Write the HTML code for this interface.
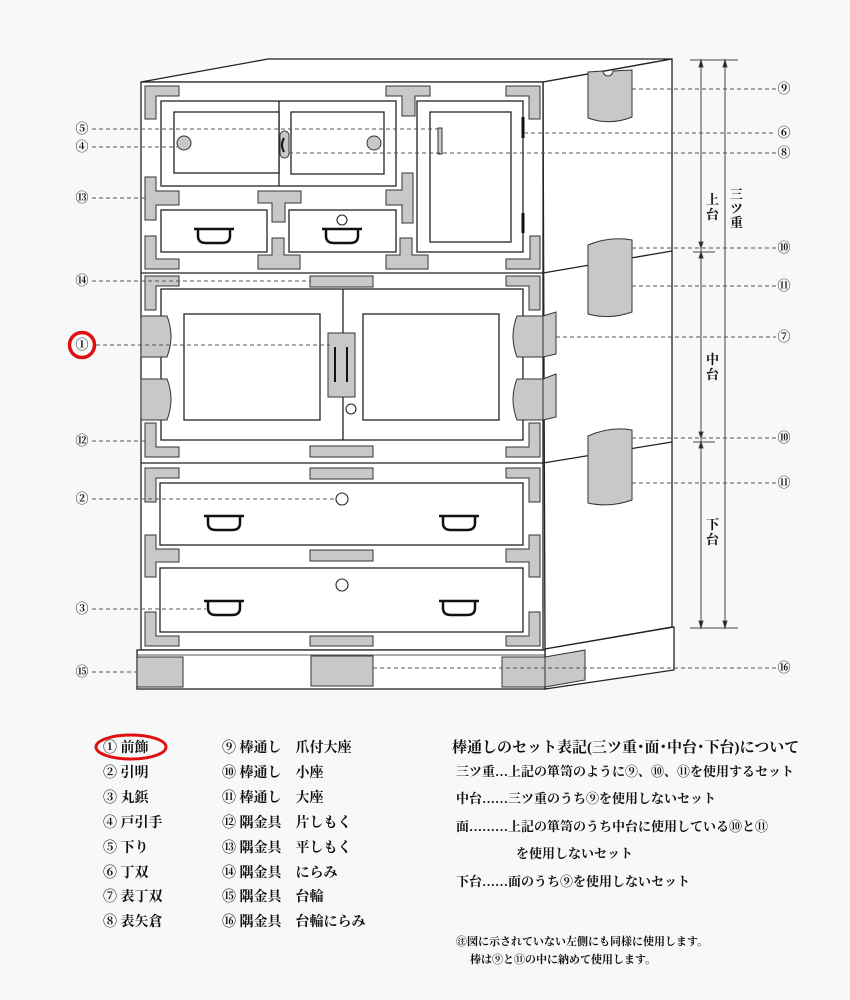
<!DOCTYPE html>
<html><head><meta charset="utf-8"><style>
html,body{margin:0;padding:0;background:#f6f8fa;}
svg{display:block;}
.t{font-family:"Liberation Serif","Noto Serif CJK JP","Noto Serif CJK SC",serif;font-weight:bold;fill:#111;}
.n{font-family:"Liberation Serif","Noto Serif CJK JP","Noto Serif CJK SC",serif;font-size:13px;font-weight:bold;fill:#111;}
</style></head><body>
<svg width="850" height="1000" viewBox="0 0 850 1000" xmlns="http://www.w3.org/2000/svg">
<rect width="850" height="1000" fill="#f6f8fa"/>
<g stroke="#222" stroke-width="1.3" fill="#fff">
<path d="M141,82 L268,59 L672,59 L543,82 Z"/>
<path d="M543,82 L672,59 L672,627 L545,649 L543,82 Z"/>
<path d="M545,649 L674,627 L674,670 L545,689 Z"/>
<rect x="141" y="82" width="402" height="568"/>
<rect x="137" y="650" width="408" height="39"/>
<line x1="141" y1="273" x2="543" y2="273"/>
<line x1="141" y1="463" x2="543" y2="463"/>
<line x1="543" y1="273" x2="672" y2="251"/>
<line x1="543" y1="463" x2="672" y2="442"/>
<line x1="137" y1="655" x2="545" y2="655" stroke-width="0.8"/>
</g>
<g stroke="#222" stroke-width="1.3" fill="#fff">
<rect x="161" y="101" width="235" height="85"/>
<line x1="279" y1="101" x2="279" y2="186"/>
<rect x="174" y="112" width="105" height="61"/>
<rect x="291" y="112" width="93" height="62"/>
<rect x="161" y="210" width="106" height="42"/>
<rect x="289" y="210" width="107" height="42"/>
<rect x="417" y="101" width="106" height="151"/>
<rect x="430" y="112" width="81" height="130"/>
<rect x="161" y="289" width="362" height="151"/>
<line x1="343" y1="289" x2="343" y2="440"/>
<rect x="184" y="314" width="136" height="106"/>
<rect x="363" y="314" width="136" height="106"/>
<rect x="160" y="483" width="363" height="62"/>
<rect x="160" y="568" width="363" height="64"/>
</g>
<g fill="#c8c8c8" stroke="#333" stroke-width="1">
<circle cx="184" cy="143" r="7"/><circle cx="374" cy="143" r="7"/>
<rect x="280" y="131" width="9" height="27" rx="4.5"/>
<rect x="438" y="128" width="4" height="26"/>
<path d="M145,86 h34 v10 h-23 v23 h-11 z"/>
<path d="M540,86 h-34 v10 h23 v23 h11 z"/>
<path d="M386,86 h44 v10 h-15 v20 h-13 v-20 h-16 z"/>
<path d="M145,177 h11 v14 h23 v14 h-23 v15 h-11 z"/>
<path d="M258,191 h43 v12 h-16 v19 h-13 v-19 h-14 z"/>
<path d="M413,173 h-11 v17 h-16 v15 h16 v18 h11 z"/>
<path d="M145,236 h11 v23 h23 v10 h-34 z"/>
<path d="M540,236 h-10 v23 h-24 v10 h34 z"/>
<path d="M272,238 h12 v17 h16 v14 h-42 v-14 h14 z"/>
<path d="M400,238 h12 v17 h16 v14 h-42 v-14 h14 z"/>
<path d="M145,276 h34 v10 h-23 v24 h-11 z"/>
<path d="M540,276 h-34 v10 h23 v24 h11 z"/>
<path d="M145,457 h34 v-10 h-23 v-24 h-11 z"/>
<path d="M540,457 h-34 v-10 h23 v-24 h11 z"/>
<rect x="310" y="276" width="63" height="11"/>
<rect x="310" y="446" width="63" height="11"/>
<rect x="328" y="333" width="27" height="64"/>
<path d="M141,316 h26 q8,20 0,41 h-26 z"/>
<path d="M141,379 h26 q8,20 0,41 h-26 z"/>
<path d="M543,316 h-26 q-8,20 0,41 h26 z"/>
<path d="M543,379 h-26 q-8,20 0,41 h26 z"/>
<path d="M543,316 L556,312 L556,354 L543,357 z"/>
<path d="M543,379 L556,374 L556,417 L543,420 z"/>
<path d="M145,468 h34 v10 h-23 v24 h-11 z"/>
<path d="M540,468 h-34 v10 h23 v24 h11 z"/>
<rect x="310" y="468" width="63" height="11"/>
<path d="M145,535 h11 v14 h23 v13 h-23 v15 h-11 z"/>
<path d="M540,535 h-11 v14 h-23 v13 h23 v15 h11 z"/>
<rect x="310" y="550" width="63" height="11"/>
<path d="M145,646 h34 v-10 h-23 v-24 h-11 z"/>
<path d="M540,646 h-34 v-10 h23 v-24 h11 z"/>
<rect x="310" y="636" width="63" height="10"/>
<rect x="137" y="657" width="46" height="30"/>
<rect x="311" y="656" width="62" height="30"/>
<rect x="502" y="657" width="43" height="30"/>
<path d="M545,657 L585,650 L585,680 L545,687 z"/>
<path d="M588,72 L603,71 A5,5 0 0 0 613,71 L632,70 L632,117 Q610,126 588,118 z"/>
<path d="M588,245 Q610,236 632,240 L632,312 Q610,320 588,314 z"/>
<path d="M588,436 Q610,426 632,430 L632,500 Q610,508 588,503 z"/>
</g>
<g fill="#fff" stroke="#222" stroke-width="1.1">
<circle cx="342" cy="220" r="5"/>
<circle cx="351" cy="409" r="5"/>
<circle cx="342" cy="499" r="6"/>
<circle cx="342" cy="585" r="6"/>
</g>
<g stroke="#111" stroke-width="2" fill="none">
<path d="M284,138 q-4,7 0,14"/>
<line x1="335" y1="347" x2="335" y2="382"/><line x1="347" y1="347" x2="347" y2="382"/>
<line x1="523" y1="117" x2="523" y2="138" stroke-width="3"/>
<line x1="523" y1="213" x2="523" y2="233" stroke-width="3"/>
<g stroke-width="2.5">
<path d="M194,229 h40 M198,229 v7 q0,7 8,7 h16 q8,0 8,-7 v-7"/>
<path d="M322,229 h40 M326,229 v7 q0,7 8,7 h16 q8,0 8,-7 v-7"/>
<path d="M204,516 h40 M208,516 v7 q0,7 8,7 h16 q8,0 8,-7 v-7"/>
<path d="M439,516 h40 M443,516 v7 q0,7 8,7 h16 q8,0 8,-7 v-7"/>
<path d="M204,601 h40 M208,601 v7 q0,7 8,7 h16 q8,0 8,-7 v-7"/>
<path d="M439,601 h40 M443,601 v7 q0,7 8,7 h16 q8,0 8,-7 v-7"/>
</g>
</g>
<g stroke="#555" stroke-width="1" stroke-dasharray="4,3">
<line x1="92" y1="129" x2="438" y2="129"/>
<line x1="92" y1="147" x2="177" y2="147"/>
<line x1="92" y1="198" x2="145" y2="198"/>
<line x1="92" y1="281" x2="310" y2="281"/>
<line x1="96" y1="345" x2="330" y2="345"/>
<line x1="92" y1="441" x2="145" y2="441"/>
<line x1="92" y1="499" x2="336" y2="499"/>
<line x1="92" y1="609" x2="206" y2="609"/>
<line x1="92" y1="672" x2="137" y2="672"/>
<line x1="632" y1="89" x2="776" y2="89"/>
<line x1="524" y1="133" x2="776" y2="133"/>
<line x1="289" y1="153" x2="776" y2="153"/>
<line x1="632" y1="248" x2="776" y2="248"/>
<line x1="632" y1="286" x2="776" y2="286"/>
<line x1="556" y1="337" x2="776" y2="337"/>
<line x1="632" y1="438" x2="776" y2="438"/>
<line x1="632" y1="483" x2="776" y2="483"/>
<line x1="373" y1="668" x2="776" y2="668"/>
</g>
<g stroke="#444" stroke-width="1" fill="#222">
<line x1="690" y1="60" x2="738" y2="60"/>
<line x1="690" y1="628" x2="738" y2="628"/>
<line x1="693" y1="252" x2="715" y2="252"/>
<line x1="693" y1="442" x2="715" y2="442"/>
<line x1="701" y1="60" x2="701" y2="628"/>
<line x1="725" y1="60" x2="725" y2="628"/>
<path d="M701,60 l-2,7 h4 z M725,60 l-2,7 h4 z M701,628 l-2,-7 h4 z M725,628 l-2,-7 h4 z M701,248 l-2,-6 h4 z M701,252 l-2,6 h4 z M701,438 l-2,-6 h4 z M701,442 l-2,6 h4 z"/>
</g>
<g class="t" font-size="13">
<text x="706" y="204">上</text><text x="706" y="219">台</text>
<text x="730" y="199">三</text><text x="730" y="213">ツ</text><text x="730" y="227">重</text>
<text x="706" y="364">中</text><text x="706" y="379">台</text>
<text x="706" y="529">下</text><text x="706" y="544">台</text>
</g>
<g class="n" text-anchor="middle">
<text x="82" y="133">⑤</text><text x="82" y="151">④</text><text x="82" y="202">⑬</text>
<text x="82" y="285">⑭</text><text x="82" y="349">①</text><text x="82" y="445">⑫</text>
<text x="82" y="503">②</text><text x="82" y="613">③</text><text x="82" y="676">⑮</text>
<text x="784" y="93">⑨</text><text x="784" y="137">⑥</text><text x="784" y="157">⑧</text>
<text x="784" y="252">⑩</text><text x="784" y="290">⑪</text><text x="784" y="341">⑦</text>
<text x="784" y="442">⑩</text><text x="784" y="487">⑪</text><text x="784" y="672">⑯</text>
</g>
<circle cx="82" cy="345" r="12.5" fill="none" stroke="#e01010" stroke-width="3.5"/>
<ellipse cx="131" cy="747" rx="35" ry="12" fill="none" stroke="#e01010" stroke-width="3"/>
<g class="t" font-size="14">
<text x="103" y="752">① 前飾</text>
<text x="103" y="777">② 引明</text>
<text x="103" y="802">③ 丸鋲</text>
<text x="103" y="827">④ 戸引手</text>
<text x="103" y="852">⑤ 下り</text>
<text x="103" y="877">⑥ 丁双</text>
<text x="103" y="901">⑦ 表丁双</text>
<text x="103" y="926">⑧ 表矢倉</text>
<text x="222" y="752">⑨ 棒通し　爪付大座</text>
<text x="222" y="777">⑩ 棒通し　小座</text>
<text x="222" y="802">⑪ 棒通し　大座</text>
<text x="222" y="827">⑫ 隅金具　片しもく</text>
<text x="222" y="852">⑬ 隅金具　平しもく</text>
<text x="222" y="877">⑭ 隅金具　にらみ</text>
<text x="222" y="901">⑮ 隅金具　台輪</text>
<text x="222" y="926">⑯ 隅金具　台輪にらみ</text>
</g>
<text class="t" font-size="15" x="452" y="752">棒通しのセット表記(三ツ重･面･中台･下台)について</text>
<g class="t" font-size="13">
<text x="456" y="776">三ツ重…上記の箪笥のように⑨、⑩、⑪を使用するセット</text>
<text x="456" y="803">中台……三ツ重のうち⑨を使用しないセット</text>
<text x="456" y="831">面………上記の箪笥のうち中台に使用している⑩と⑪</text>
<text x="516" y="858">を使用しないセット</text>
<text x="456" y="886">下台……面のうち⑨を使用しないセット</text>
</g>
<g class="t" font-size="11">
<text x="456" y="945">㊟図に示されていない左側にも同様に使用します。</text>
<text x="470" y="963">棒は⑨と⑪の中に納めて使用します。</text>
</g>
</svg>
</body></html>
